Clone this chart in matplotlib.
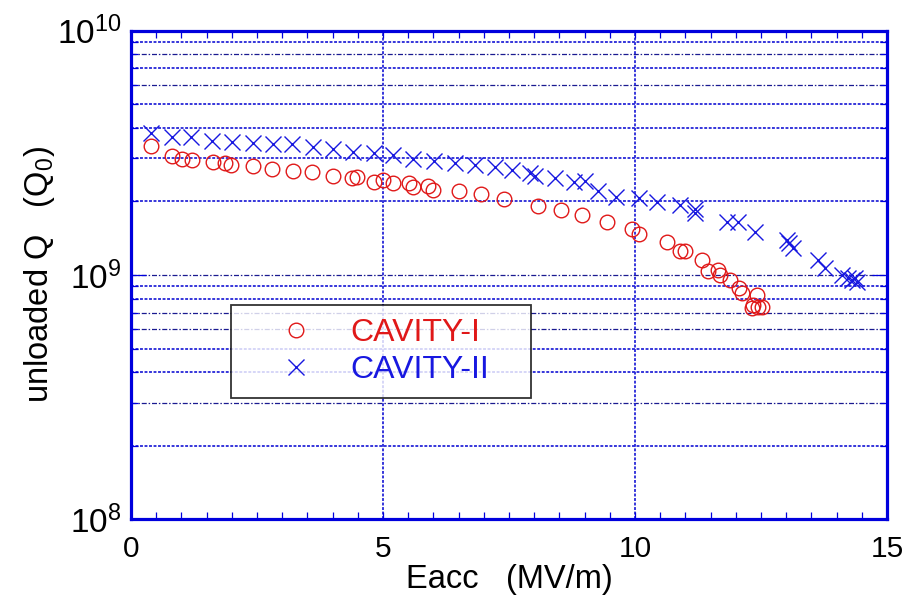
import matplotlib
matplotlib.use("Agg")
import numpy as np
import matplotlib.pyplot as plt
from matplotlib.ticker import FixedLocator, MultipleLocator, FuncFormatter, NullFormatter
from matplotlib.lines import Line2D

plt.rcParams['font.family'] = ['Liberation Sans', 'DejaVu Sans']
plt.rcParams['mathtext.fontset'] = 'custom'
plt.rcParams['mathtext.rm'] = 'Liberation Sans'
plt.rcParams['mathtext.it'] = 'Liberation Sans:italic'

# Accelerating gradient (MV/m) and unloaded Q for the two cavities
eacc_cav1 = [0.40, 0.81, 1.02, 1.22, 1.62, 1.87, 1.99, 2.42, 2.80, 3.22, 3.60,
             4.00, 4.39, 4.48, 4.83, 5.01, 5.20, 5.52, 5.60, 5.90, 6.00, 6.51,
             6.94, 7.40, 8.08, 8.53, 8.95, 9.44, 9.95, 10.07, 10.64, 10.89,
             10.99, 11.32, 11.45, 11.65, 11.69, 11.89, 12.07, 12.12, 12.42,
             12.35, 12.45, 12.32, 12.51]
q0_cav1 = [3.38e9, 3.07e9, 2.97e9, 2.94e9, 2.89e9, 2.86e9, 2.83e9, 2.78e9,
           2.71e9, 2.67e9, 2.63e9, 2.54e9, 2.50e9, 2.52e9, 2.41e9, 2.44e9,
           2.37e9, 2.37e9, 2.28e9, 2.32e9, 2.23e9, 2.21e9, 2.14e9, 2.05e9,
           1.91e9, 1.84e9, 1.76e9, 1.65e9, 1.54e9, 1.47e9, 1.36e9, 1.25e9,
           1.25e9, 1.15e9, 1.04e9, 1.05e9, 1.00e9, 9.54e8, 8.82e8, 8.42e8,
           8.29e8, 7.54e8, 7.42e8, 7.35e8, 7.42e8]

eacc_cav2 = [0.40, 0.81, 1.20, 1.61, 2.01, 2.42, 2.81, 3.20, 3.62, 4.01, 4.41,
             4.83, 5.20, 5.60, 6.02, 6.43, 6.83, 7.22, 7.55, 7.92, 8.02, 8.41,
             8.78, 9.01, 9.27, 9.62, 10.07, 10.43, 10.89, 11.19, 11.19, 11.82,
             12.05, 12.38, 13.01, 13.06, 13.14, 13.64, 13.77, 14.10, 14.23,
             14.31, 14.37, 14.41]
q0_cav2 = [3.82e9, 3.68e9, 3.66e9, 3.53e9, 3.49e9, 3.48e9, 3.44e9, 3.42e9,
           3.35e9, 3.27e9, 3.19e9, 3.16e9, 3.10e9, 2.98e9, 2.93e9, 2.88e9,
           2.82e9, 2.77e9, 2.69e9, 2.62e9, 2.54e9, 2.49e9, 2.41e9, 2.43e9,
           2.21e9, 2.09e9, 2.06e9, 1.99e9, 1.93e9, 1.87e9, 1.79e9, 1.64e9,
           1.64e9, 1.50e9, 1.39e9, 1.35e9, 1.29e9, 1.15e9, 1.07e9, 1.00e9,
           9.72e8, 9.54e8, 9.69e8, 9.39e8]

series_labels = ['CAVITY-I', 'CAVITY-II']
x_ticks = [0, 5, 10, 15]
y_major = [1e8, 1e9, 1e10]

RED = '#e01818'
BLUE = '#1818e0'
AXBLUE = '#0000dd'

fig = plt.figure(figsize=(9.09, 6.08), dpi=100)
ax = fig.add_axes([0.1441, 0.1456, 0.8317, 0.8042])
ax.set_xscale('linear')
ax.set_yscale('log')
ax.set_xlim(0, 15)
ax.set_ylim(1e8, 1e10)

# horizontal grid at every decade subdivision, two alternating styles
dense = dict(color='#2626d8', lw=1.3, ls=(0, (1.6, 0.9)))
sparse = dict(color='#1a1a90', lw=0.9, ls=(0, (4, 1.5, 1.2, 1.5)))
sparse_vals = {3e8, 6e8, 7e8, 1e9, 6e9, 8e9}
for dec in (1e8, 1e9):
    for k in range(2, 11):
        v = k * dec
        if v >= 1e10:
            continue
        st = sparse if any(np.isclose(v, s) for s in sparse_vals) else dense
        ax.axhline(v, zorder=1, **st)
for xv in (5, 10):
    ax.axvline(xv, zorder=1, **dense)

ax.plot(eacc_cav1, q0_cav1, ls='none', marker='o', ms=10.5, mfc='none',
        mec=RED, mew=1.0, zorder=3)
ax.plot(eacc_cav2, q0_cav2, ls='none', marker='x', ms=11.5, color=BLUE,
        mew=1.0, zorder=3)

# axes frame and ticks
for sp in ax.spines.values():
    sp.set_color(AXBLUE)
    sp.set_linewidth(2.3)
ax.xaxis.set_major_locator(FixedLocator(x_ticks))
ax.xaxis.set_minor_locator(MultipleLocator(0.5))
ax.yaxis.set_major_locator(FixedLocator(y_major))
ax.yaxis.set_minor_locator(FixedLocator([k * d for d in (1e8, 1e9) for k in range(2, 10)]))
ax.yaxis.set_minor_formatter(NullFormatter())
ax.yaxis.set_major_formatter(FuncFormatter(
    lambda v, _: r'$\mathregular{10^{%d}}$' % int(round(np.log10(v)))))
ax.tick_params(which='both', direction='in', top=True, right=True,
               color=AXBLUE, width=0.9, labelcolor='black')
ax.tick_params(axis='x', which='both', length=5, pad=11, labelsize=21.5)
ax.tick_params(axis='y', which='major', length=11, pad=7, labelsize=24)
ax.tick_params(axis='y', which='minor', length=5)

ax.set_xlabel('Eacc   (MV/m)', fontsize=23.5, labelpad=1)
ax.set_ylabel(r'unloaded Q   (Q$_\mathregular{0}$)', fontsize=23.5, labelpad=0)

handles = [
    Line2D([], [], ls='none', marker='o', ms=10.5, mfc='none', mec=RED, mew=1.0),
    Line2D([], [], ls='none', marker='x', ms=11.5, color=BLUE, mew=1.0),
]
leg = ax.legend(handles, series_labels, loc='lower left',
                bbox_to_anchor=(0.1323, 0.2485, 0.3968, 0.2105), mode='expand',
                fontsize=23, labelcolor=[RED, BLUE], frameon=True,
                fancybox=False, shadow=False, borderpad=0.4,
                handlelength=3.3, handletextpad=0.05, labelspacing=0.22,
                borderaxespad=0)
leg.get_frame().set_edgecolor('black')
leg.get_frame().set_linewidth(1.3)
leg.set_zorder(5)

fig.savefig('out.png', dpi=100)
